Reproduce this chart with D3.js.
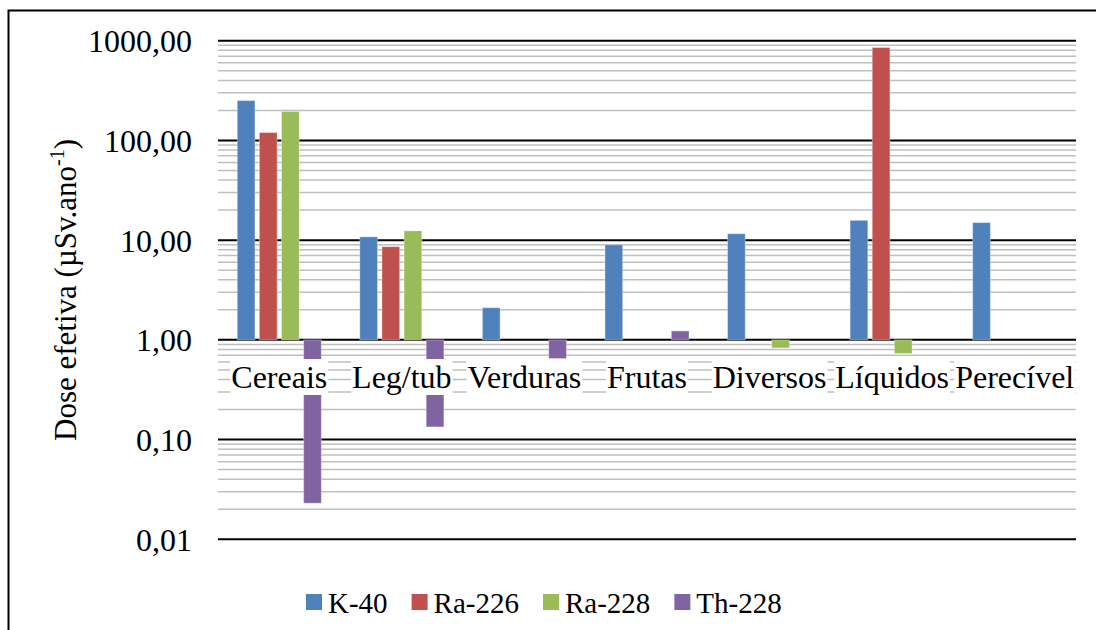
<!DOCTYPE html>
<html>
<head>
<meta charset="utf-8">
<script src="https://cdn.jsdelivr.net/npm/d3@7"></script>
<style>
  body { margin: 0; background: #fff; }
</style>
</head>
<body>
<svg id="chart" width="1096" height="630"></svg>
<script>
// values (dose in µSv/ano, bars start at 1,00)
const categories = ["Cereais", "Leg/tub", "Verduras", "Frutas", "Diversos", "Líquidos", "Perecível"];
const seriesNames = ["K-40", "Ra-226", "Ra-228", "Th-228"];
const k40   = [251, 10.8, 2.1, 9.0, 11.6, 15.8, 15.0];
const ra226 = [120, 8.6, null, null, null, 855, null];
const ra228 = [195, 12.4, null, null, 0.83, 0.73, null];
const th228 = [0.023, 0.134, 0.65, 1.23, null, null, null];
const majorTicks = [0.01, 0.1, 1, 10, 100, 1000];
const colors = ["#4F81BD", "#C0504D", "#9BBB59", "#8064A2"];

const FONT = "'Liberation Serif', 'Times New Roman', Times, serif";

const values = [k40, ra226, ra228, th228];
const data = [];
categories.forEach((c, i) => {
  seriesNames.forEach((s, j) => {
    if (values[j][i] != null) data.push({ cat: c, series: s, value: values[j][i] });
  });
});

const svg = d3.select("#chart").style("font-family", FONT);
const margin = { left: 218, right: 1076, top: 40.7, bottom: 539.3 };

// outer frame, runs off the right and bottom edges like the picture
svg.append("rect")
  .attr("x", 8.5).attr("y", 10.5)
  .attr("width", 1100).attr("height", 640)
  .attr("fill", "none").attr("stroke", "#000").attr("stroke-width", 2);

const y = d3.scaleLog().domain([0.01, 1000]).range([margin.bottom, margin.top]);
const x0 = d3.scaleBand().domain(categories).range([margin.left, margin.right]);
const x1 = d3.scaleBand().domain(seriesNames).range([0, x0.bandwidth()])
  .paddingInner(0.2).paddingOuter(0.87);
const color = d3.scaleOrdinal().domain(seriesNames).range(colors);

// minor gridlines
const minor = [];
majorTicks.slice(0, -1).forEach(m => {
  for (let k = 2; k <= 9; k++) minor.push(m * k);
});
svg.append("g").selectAll("line")
  .data(minor)
  .enter().append("line")
  .attr("x1", margin.left).attr("x2", margin.right)
  .attr("y1", d => y(d)).attr("y2", d => y(d))
  .attr("stroke", "#BFBFBF").attr("stroke-width", 1.5);

svg.append("g").selectAll("line")
  .data(majorTicks)
  .enter().append("line")
  .attr("x1", margin.left).attr("x2", margin.right)
  .attr("y1", d => y(d)).attr("y2", d => y(d))
  .attr("stroke", "#000").attr("stroke-width", 2);

// y axis labels
const locale = d3.formatLocale({ decimal: ",", thousands: ".", grouping: [3], currency: ["", ""] });
const fmt = locale.format(".2f");
const yAxis = svg.append("g")
  .attr("transform", "translate(" + margin.left + ",0)")
  .call(d3.axisLeft(y).tickValues(majorTicks).tickFormat(fmt).tickSize(0).tickPadding(26));
yAxis.attr("font-family", null).attr("font-size", null);
yAxis.select(".domain").remove();
yAxis.selectAll("text")
  .attr("dy", "0.34em")
  .attr("fill", "#000")
  .style("font-family", FONT)
  .style("font-size", "32px");

// bars from 1,00 up or down
svg.append("g").selectAll("rect")
  .data(data)
  .enter().append("rect")
  .attr("x", d => x0(d.cat) + x1(d.series))
  .attr("width", x1.bandwidth())
  .attr("y", d => Math.min(y(d.value), y(1)))
  .attr("height", d => Math.abs(y(d.value) - y(1)))
  .attr("fill", d => color(d.series))
  .attr("stroke", "rgba(255,255,255,0.35)")
  .attr("stroke-width", 1);

// category labels sit on the 1,00 line with white boxes behind them
const catG = svg.append("g");
categories.forEach(c => {
  const g = catG.append("g");
  const t = g.append("text")
    .attr("x", x0(c) + x0.bandwidth() / 2)
    .attr("y", 388)
    .attr("text-anchor", "middle")
    .style("font-family", FONT)
    .style("font-size", "32px")
    .text(c);
  const bb = t.node().getBBox();
  g.insert("rect", "text")
    .attr("x", bb.x - 1).attr("y", 359)
    .attr("width", bb.width + 2).attr("height", 36)
    .attr("fill", "#fff");
});

// y axis title
svg.append("text")
  .attr("transform", "translate(76,290) rotate(-90)")
  .attr("text-anchor", "middle")
  .style("font-family", FONT)
  .style("font-size", "31px")
  .call(t => {
    t.append("tspan").text("Dose efetiva (µSv.ano");
    t.append("tspan").attr("dy", -12).style("font-size", "20px").text("-1");
    t.append("tspan").attr("dy", 12).text(")");
  });

// legend
const legend = svg.append("g");
let lx = 306;
seriesNames.forEach(s => {
  legend.append("rect")
    .attr("x", lx).attr("y", 594)
    .attr("width", 16).attr("height", 16)
    .attr("fill", color(s));
  const t = legend.append("text")
    .attr("x", lx + 22).attr("y", 613)
    .style("font-family", FONT)
    .style("font-size", "29px")
    .text(s);
  lx += 22 + t.node().getComputedTextLength() + 24;
});
</script>
</body>
</html>
